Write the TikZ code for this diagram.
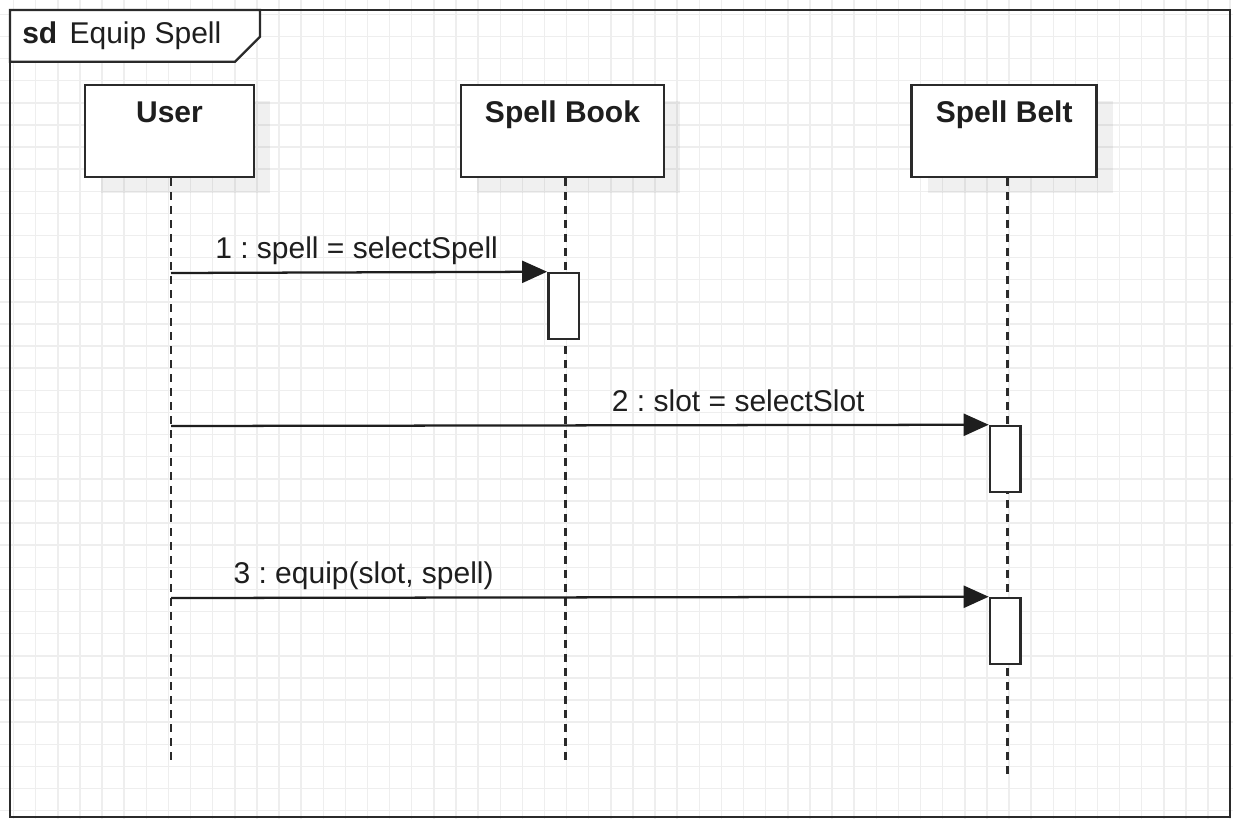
\documentclass[tikz,border=0pt]{standalone}
\usepackage{fontspec}
\setmainfont{Liberation Sans}
\usetikzlibrary{arrows.meta,calc,shadows}
\definecolor{gridc}{HTML}{EEEEEE}
\definecolor{ink}{HTML}{2A2A2A}
\definecolor{txt}{HTML}{1E1E1E}
\newcommand{\fsz}{\fontsize{22.5pt}{27pt}\selectfont}
\frenchspacing
\tikzset{
  gridline/.style={gridc, line width=1.1pt},
  frameline/.style={draw=ink, line width=1.8pt},
  lifebox/.style={draw=ink, line width=1.9pt, fill=white, minimum height=69pt, inner sep=0pt,
    general shadow={fill=black, fill opacity=0.06, shadow xshift=12pt, shadow yshift=-12pt}},
  boxtitle/.style={anchor=base, inner sep=0pt, font=\fsz\bfseries, text=txt},
  lifeline/.style={draw=ink, line width=1.9pt, dash pattern=on 5.8pt off 4.7pt},
  actbox/.style={draw=ink, line width=1.9pt, fill=white, minimum width=23pt, minimum height=49.5pt, inner sep=0pt},
  msg/.style={draw=txt, line width=1.7pt, -{Triangle[length=18.75pt,width=16.5pt]}},
  msglabel/.style={anchor=base west, inner sep=0pt, font=\fsz, text=txt}
}
\begin{document}
\begin{tikzpicture}[x=0.75pt,y=-0.75pt]
\useasboundingbox (0,0) rectangle (1233,819);
\fill[white] (0,0) rectangle (1233,819);
% grid
\foreach \i in {0,...,55} \draw[gridline] ({13.6+22.12*\i},0) -- ++(0,819);
\foreach \j in {0,...,36} \draw[gridline] (0,{14.3+22.12*\j}) -- ++(1233,0);
% frame
\draw[frameline] (10,10) rectangle (1230,817);
\draw[frameline, fill=white] (10,10) -- (260,10) -- (260,36.7) -- (235,61.7) -- (10,61.7) -- cycle;
\node[anchor=base west, inner sep=0pt, font=\fsz\bfseries, text=txt] (sd) at (22,43.3) {sd};
\node[anchor=base west, inner sep=0pt, font=\fsz, text=txt] (sdname) at (69.3,43.3) {Equip Spell};
% lifeline heads
\node[lifebox, minimum width=126.75pt] (user) at (169.5,131) {};
\node[lifebox, minimum width=152.25pt] (book) at (562.5,131) {};
\node[lifebox, minimum width=138.75pt] (belt) at (1004.2,131) {};
\node[boxtitle] (userT) at ($(user.north)+(0,39)$) {User};
\node[boxtitle] (bookT) at ($(book.north)+(0,39)$) {Spell Book};
\node[boxtitle] (beltT) at ($(belt.north)+(0,39)$) {Spell Belt};
% lifelines
\coordinate (uEnd) at (171,763);
\coordinate (bEnd) at (565.7,763);
\coordinate (sEnd) at (1007.3,780);
\draw[lifeline] (user.south -| uEnd) -- (uEnd);
\draw[lifeline] (book.south -| bEnd) -- (bEnd);
\draw[lifeline] (belt.south -| sEnd) -- (sEnd);
% activations
\node[actbox] (a1) at (563.7,306) {};
\node[actbox] (a2) at (1005.3,459) {};
\node[actbox] (a3) at (1005.3,631) {};
% messages
\coordinate (m1) at (171,273);
\coordinate (m2) at (171,426);
\coordinate (m3) at (171,598);
\draw[msg] (m1) -- (a1.north west);
\draw[msg] (m2) -- (a2.north west);
\draw[msg] (m3) -- (a3.north west);
\node[msglabel] (l1) at (215,258.5) {1 : spell = selectSpell};
\node[msglabel] (l2) at (611.7,411.5) {2 : slot = selectSlot};
\node[msglabel] (l3) at (233.3,583) {3 : equip(slot, spell)};
\end{tikzpicture}
\end{document}
